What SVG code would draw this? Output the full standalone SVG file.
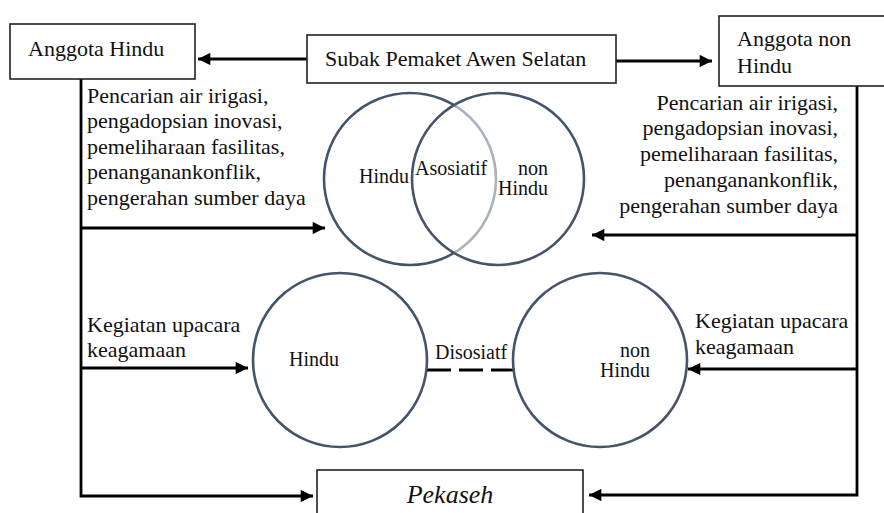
<svg xmlns="http://www.w3.org/2000/svg" width="884" height="513" viewBox="0 0 884 513">
<style>
text{font-family:"Liberation Serif","Times New Roman",serif;fill:#111;}
.t{font-size:22px;}
.c{font-size:20px;}
.box{fill:#fff;stroke:#222;stroke-width:1.6;}
.ln{fill:none;stroke:#000;stroke-width:2.8;}
.circ{stroke:#44546a;stroke-width:2.6;}
</style>
<defs>
<marker id="ah" viewBox="0 0 10 10" refX="10" refY="5" markerWidth="5" markerHeight="4.4" orient="auto" markerUnits="strokeWidth">
<path d="M0,0 L10,5 L0,10 Z" fill="#000"/>
</marker>
</defs>
<rect width="884" height="513" fill="#fff"/>
<g id="connectors">
<line class="ln" x1="307" y1="59" x2="198" y2="59" marker-end="url(#ah)"/>
<line class="ln" x1="616" y1="61" x2="712" y2="61" marker-end="url(#ah)"/>
<polyline class="ln" points="81,79 81,496 313,496" marker-end="url(#ah)"/>
<line class="ln" x1="81" y1="228" x2="325" y2="228" marker-end="url(#ah)"/>
<line class="ln" x1="81" y1="368" x2="248" y2="368" marker-end="url(#ah)"/>
<polyline class="ln" points="857,86 857,495 589,495" marker-end="url(#ah)"/>
<line class="ln" x1="857" y1="235" x2="592" y2="235" marker-end="url(#ah)"/>
<line class="ln" x1="857" y1="369" x2="688" y2="369" marker-end="url(#ah)"/>
<line x1="427" y1="370" x2="517" y2="370" stroke="#000" stroke-width="2.8" stroke-dasharray="24,8"/>
</g>
<g id="anggota-hindu">
<rect class="box" x="10" y="24" width="185" height="55"/>
<text class="t" x="28" y="56">Anggota Hindu</text>
</g>
<g id="subak">
<rect class="box" x="307" y="35" width="309" height="48"/>
<text class="t" x="325" y="66">Subak Pemaket Awen Selatan</text>
</g>
<g id="anggota-non-hindu">
<rect class="box" x="719" y="16" width="175" height="70"/>
<text class="t" x="737" y="46">Anggota non</text>
<text class="t" x="737" y="73">Hindu</text>
</g>
<g id="label-left-top">
<text class="t" x="87" y="103">Pencarian air irigasi,</text>
<text class="t" x="87" y="128">pengadopsian inovasi,</text>
<text class="t" x="87" y="154">pemeliharaan fasilitas,</text>
<text class="t" x="87" y="179">penanganankonflik,</text>
<text class="t" x="87" y="205">pengerahan sumber daya</text>
</g>
<g id="label-right-top" text-anchor="end">
<text class="t" x="838" y="110">Pencarian air irigasi,</text>
<text class="t" x="838" y="135">pengadopsian inovasi,</text>
<text class="t" x="838" y="161">pemeliharaan fasilitas,</text>
<text class="t" x="838" y="187">penanganankonflik,</text>
<text class="t" x="838" y="213">pengerahan sumber daya</text>
</g>
<g id="venn-asosiatif">
<circle class="circ" cx="410" cy="179" r="86" fill="none"/>
<circle class="circ" cx="498" cy="179" r="86" fill="#fff" fill-opacity="0.55"/>
<text class="c" x="359" y="183">Hindu</text>
<text class="c" x="415" y="175">Asosiatif</text>
<text class="c" x="518" y="175">non</text>
<text class="c" x="498" y="195">Hindu</text>
</g>
<g id="hindu-bottom">
<circle class="circ" cx="340" cy="360" r="87" fill="none"/>
<text class="c" x="289" y="366">Hindu</text>
</g>
<g id="non-hindu-bottom">
<circle class="circ" cx="600" cy="360" r="87" fill="none"/>
<text class="c" x="620" y="357">non</text>
<text class="c" x="600" y="377">Hindu</text>
</g>
<g id="disosiatif">
<text class="c" x="435" y="359">Disosiatf</text>
</g>
<g id="label-left-bottom">
<text class="t" x="87" y="332">Kegiatan upacara</text>
<text class="t" x="87" y="357">keagamaan</text>
</g>
<g id="label-right-bottom">
<text class="t" x="695" y="328">Kegiatan upacara</text>
<text class="t" x="695" y="354">keagamaan</text>
</g>
<g id="pekaseh">
<rect class="box" x="317" y="470" width="266" height="60"/>
<text x="450" y="503" text-anchor="middle" font-size="26" font-style="italic">Pekaseh</text>
</g>
</svg>
